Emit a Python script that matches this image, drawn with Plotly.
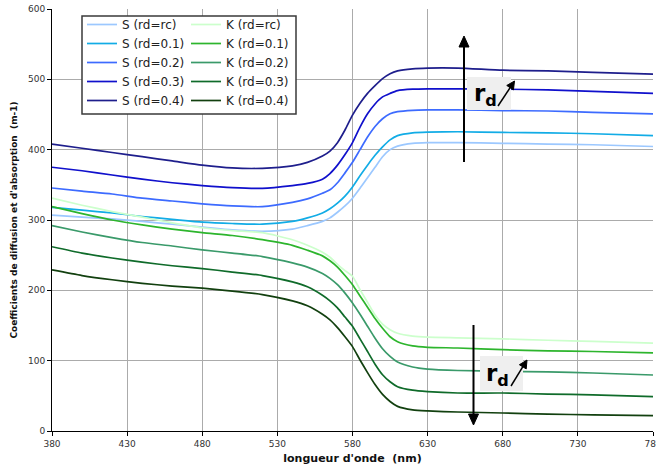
import math
import plotly.graph_objects as go

wavelength = [380, 400, 420, 440, 460, 480, 500, 520, 540, 550, 560, 565, 570, 575,
              580, 585, 590, 595, 600, 605, 610, 620, 630, 650, 680, 710, 740, 780]

S_rc = [307, 304, 301.5, 298, 294, 290, 286, 284, 287, 292, 298, 303, 311, 320,
        331, 345, 360, 375, 390, 400, 405, 409, 410, 410, 409, 408, 407, 404.5]
S_01 = [318, 314, 310, 305, 301, 297, 295, 294, 298, 303, 310, 316, 324, 334,
        347, 363, 378, 392, 404, 414, 420, 424, 425, 425.5, 424.5, 424, 422.6, 420]
S_02 = [345.5, 341, 337, 331, 327, 323, 320, 319, 325, 330, 338, 343, 353, 367,
        382, 400, 418, 433, 444, 451, 454, 456, 456.5, 456.5, 455.5, 455, 453, 451]
S_03 = [375, 370, 364, 358, 353, 349, 346, 345, 349, 352, 358, 366, 378, 393,
        410, 432, 451, 465, 475, 480, 484, 486, 486.5, 486.5, 486, 485, 483, 480]
S_04 = [408, 402, 396, 390, 384, 378, 374, 373.5, 377, 382, 391, 398, 410, 428,
        449, 466, 480, 491, 501, 508, 512, 515, 516, 516, 513, 512, 510, 507.5]

K_rc = [331, 321, 312, 304, 296, 289, 285, 282, 272, 264, 254, 247, 237, 228,
        220, 201, 183, 165, 152, 144, 139, 135, 133.5, 132.5, 131, 129, 127.5, 125]
K_01 = [319, 309, 300, 293, 287, 282, 278, 272, 264, 257, 249, 242, 233, 221,
        208, 192, 176, 160, 146, 134, 127, 121, 119, 118, 115.6, 114, 113, 111]
K_02 = [292, 283, 275, 268, 263, 257.5, 253, 248, 239, 233, 224, 217, 208, 196,
        182, 166, 149, 132, 117, 106, 98, 91, 88, 86, 85, 84, 82.5, 79.6]
K_03 = [262, 253, 246, 240, 235, 231, 226, 221, 212, 205, 193, 185, 175, 162,
        149, 131, 113, 95, 80, 70, 63, 58, 56, 54, 54, 52.5, 51.5, 49]
K_04 = [229, 221, 215, 210, 206, 203, 199, 194, 185, 178, 166, 158, 147, 134,
        120, 101, 83, 66, 52, 42, 35, 30, 28.5, 27, 25.6, 24, 23, 22]

S_names = ["S (rd=rc)", "S (rd=0.1)", "S (rd=0.2)", "S (rd=0.3)", "S (rd=0.4)"]
K_names = ["K (rd=rc)", "K (rd=0.1)", "K (rd=0.2)", "K (rd=0.3)", "K (rd=0.4)"]
S_colors = ["#9CC8FF", "#12ACE6", "#3D6BFF", "#1010CC", "#1E1E8C"]
K_colors = ["#CCFFCC", "#2DB52D", "#3A9A6A", "#0F6B2A", "#12400F"]

x_ticks = [380, 430, 480, 530, 580, 630, 680, 730, 780]
y_ticks = [0, 100, 200, 300, 400, 500, 600]

FONT = "DejaVu Sans"
X_RANGE = [380, 780]
Y_RANGE = [0, 600]

fig = go.Figure()
for name, col, vals in zip(S_names, S_colors, [S_rc, S_01, S_02, S_03, S_04]):
    fig.add_trace(go.Scatter(x=wavelength, y=vals, name=name, mode="lines",
                             line=dict(color=col, width=1.7, shape="spline", smoothing=0.6),
                             legend="legend"))
for name, col, vals in zip(K_names, K_colors, [K_rc, K_01, K_02, K_03, K_04]):
    fig.add_trace(go.Scatter(x=wavelength, y=vals, name=name, mode="lines",
                             line=dict(color=col, width=1.7, shape="spline", smoothing=0.6),
                             legend="legend2"))

W, H = 656, 472
L, R, T, B = 52, 3, 9, 41
pw, ph = W - L - R, H - T - B
SX = pw / (X_RANGE[1] - X_RANGE[0])   # px per nm
SY = ph / (Y_RANGE[1] - Y_RANGE[0])   # px per unit


def px_x(p):
    return (p - L) / pw


def px_y(p):
    return (H - B - p) / ph


def dx(p):
    return X_RANGE[0] + (p - L) / SX


def dy(p):
    return (H - B - p) / SY


# legend frame
fig.add_shape(type="rect", xref="paper", yref="paper",
              x0=px_x(82), x1=px_x(296), y0=px_y(114), y1=px_y(16),
              line=dict(color="#3a3a3a", width=1.5), fillcolor="white", layer="above")

legend_common = dict(bgcolor="rgba(0,0,0,0)", borderwidth=0, font=dict(family=FONT, size=12, color="#222"),
                     xanchor="left", yanchor="top", tracegroupgap=0, orientation="v")
fig.update_layout(
    legend=dict(x=px_x(82), y=px_y(10), **legend_common),
    legend2=dict(x=px_x(186), y=px_y(10), **legend_common),
)

# grey label boxes for r_d
for x0p, x1p, y0p, y1p in [(467, 511, 77, 110), (480, 523, 356, 391)]:
    fig.add_shape(type="rect", xref="x", yref="y", x0=dx(x0p), x1=dx(x1p), y0=dy(y1p), y1=dy(y0p),
                  line=dict(width=0), fillcolor="#EFEFEF", layer="above")


def add_arrow(x_tail, y_tail, x_tip, y_tip, width, head_len, head_half):
    vx = (x_tip - x_tail) * SX
    vy = (y_tip - y_tail) * SY
    n = math.hypot(vx, vy)
    ux, uy = vx / n, vy / n
    bx = x_tip - ux * head_len / SX
    by = y_tip - uy * head_len / SY
    fig.add_shape(type="line", xref="x", yref="y", x0=x_tail, y0=y_tail,
                  x1=x_tip - ux * (head_len - 1) / SX, y1=y_tip - uy * (head_len - 1) / SY,
                  line=dict(color="black", width=width), layer="above")
    px1, py1 = bx + (-uy) * head_half / SX, by + ux * head_half / SY
    px2, py2 = bx - (-uy) * head_half / SX, by - ux * head_half / SY
    fig.add_shape(type="path", xref="x", yref="y",
                  path=f"M{x_tip},{y_tip} L{px1},{py1} L{px2},{py2} Z",
                  fillcolor="black", line=dict(color="black", width=1), layer="above")


add_arrow(dx(464), dy(162), dx(464), dy(36), 2, 11, 5)
add_arrow(dx(473.5), dy(325), dx(473.5), dy(425), 2, 11, 5)
add_arrow(dx(498), dy(106), dx(514.5), dy(81), 1.5, 8, 4)
add_arrow(dx(511), dy(386), dx(527), dy(360), 1.5, 8, 4)

# r_d labels
for xp, yp in [(485, 95), (497, 375)]:
    fig.add_annotation(x=dx(xp), y=dy(yp), xref="x", yref="y", showarrow=False,
                       text="<b>r<sub>d</sub></b>", font=dict(family=FONT, size=23, color="black"))

axis_common = dict(showline=True, linecolor="black", linewidth=1, ticks="outside", ticklen=4,
                   tickcolor="black", showgrid=True, gridcolor="#ABABAB", gridwidth=1,
                   zeroline=False, tickfont=dict(family=FONT, size=9, color="#333"),
                   ticklabeloverflow="allow")

fig.update_xaxes(range=X_RANGE, tickvals=x_ticks, ticktext=[str(v) for v in x_ticks],
                 title=dict(text="<b>longueur d'onde  (nm)</b>",
                            font=dict(family=FONT, size=11, color="#111"), standoff=6),
                 automargin=False, **axis_common)
fig.update_yaxes(range=Y_RANGE, tickvals=y_ticks,
                 title=dict(text="<b>Coefficients de diffusion et d'absorption  (m-1)</b>",
                            font=dict(family=FONT, size=9, color="#111"), standoff=8),
                 automargin=False, **axis_common)

fig.update_layout(width=W, height=H, margin=dict(l=L, r=R, t=T, b=B),
                  paper_bgcolor="white", plot_bgcolor="white",
                  font=dict(family=FONT), showlegend=True)

fig.write_html("out.html", config={"displayModeBar": False},
               post_script="document.body.style.margin='0';document.body.style.overflow='hidden';")
